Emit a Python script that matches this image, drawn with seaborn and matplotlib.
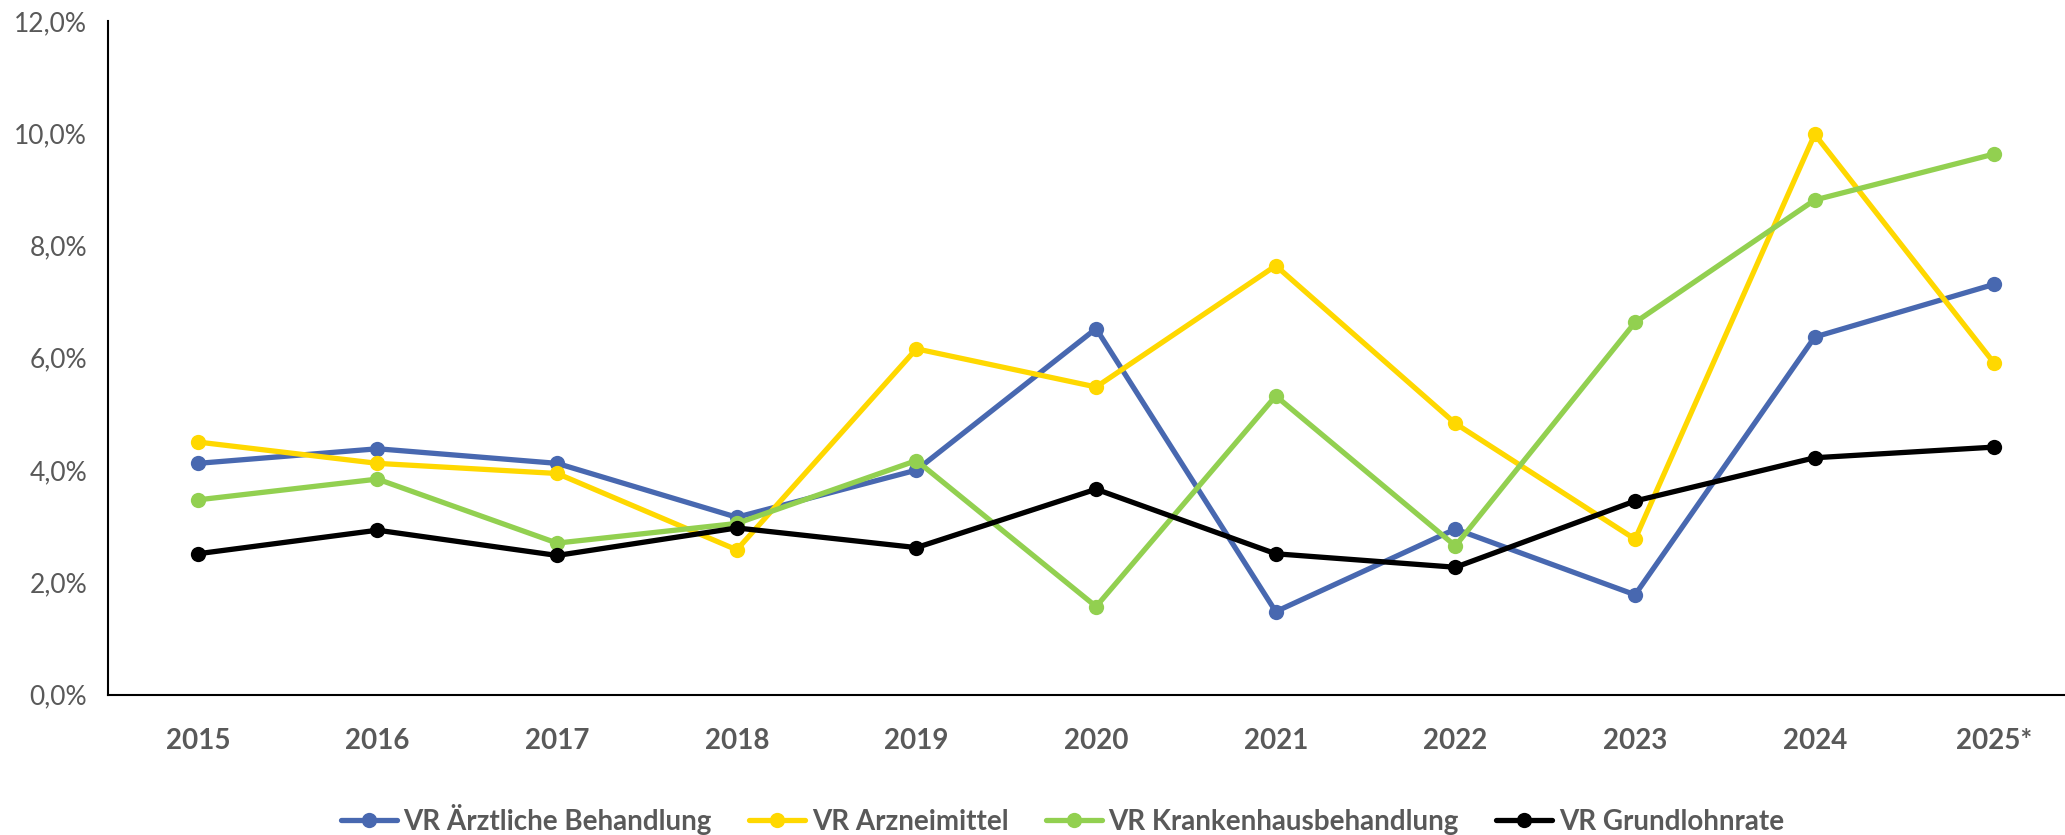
import pandas as pd
import numpy as np
import matplotlib
matplotlib.use("Agg")
import matplotlib.pyplot as plt
import seaborn as sns
from matplotlib.ticker import FuncFormatter

# data (in %)
years = ["2015", "2016", "2017", "2018", "2019", "2020", "2021", "2022", "2023", "2024", "2025*"]
aerztlich = [4.12, 4.38, 4.12, 3.16, 4.0, 6.52, 1.48, 2.95, 1.78, 6.37, 7.31]
arznei = [4.5, 4.12, 3.94, 2.58, 6.16, 5.48, 7.64, 4.83, 2.77, 9.98, 5.9]
krankenhaus = [3.47, 3.84, 2.70, 3.05, 4.17, 1.57, 5.32, 2.65, 6.63, 8.81, 9.63]
grundlohn = [2.51, 2.93, 2.48, 2.97, 2.62, 3.66, 2.51, 2.27, 3.45, 4.22, 4.41]

series = ["VR Ärztliche Behandlung", "VR Arzneimittel", "VR Krankenhausbehandlung", "VR Grundlohnrate"]
colors = ["#4868B0", "#FFD800", "#92D050", "#000000"]

df = pd.DataFrame({
    "Jahr": years * 4,
    "Wert": aerztlich + arznei + krankenhaus + grundlohn,
    "Reihe": [s for s in series for _ in years],
})

sns.set_style("white")
plt.rcParams['font.family'] = ['Lato', 'DejaVu Sans']

fig = plt.figure(figsize=(20.65, 8.35), dpi=100)
# plot area runs a little past the right edge of the image, as in the original
ax = fig.add_axes([0.0523, 0.168, 0.957, 0.807])

sns.lineplot(data=df, x="Jahr", y="Wert", hue="Reihe", palette=colors,
             hue_order=series, marker="o", markersize=11, markeredgewidth=0,
             linewidth=3.8, ax=ax, sort=False)

ax.set_xlim(-0.5, len(years) - 0.5)
ax.set_ylim(0, 12)
ax.set_yticks(np.arange(0, 12.1, 2))
ax.yaxis.set_major_formatter(FuncFormatter(lambda v, p: f"{v:.1f}%".replace(".", ",")))
ax.set_xlabel("")
ax.set_ylabel("")

for s in ["top", "right"]:
    ax.spines[s].set_visible(False)
for s in ["left", "bottom"]:
    ax.spines[s].set_color("black")
    ax.spines[s].set_linewidth(1.5)

ax.tick_params(axis="y", length=0, labelsize=19, labelcolor="#595959", pad=15)
ax.tick_params(axis="x", length=0, labelsize=20, labelcolor="#595959", pad=24)
for t in ax.get_xticklabels():
    t.set_fontweight("bold")

leg = ax.legend(loc="upper center", bbox_to_anchor=(0.483, -0.125), ncol=4, frameon=False,
                handlelength=2.0, columnspacing=1.35, handletextpad=0.25,
                prop={"weight": "bold", "size": 20})
for t in leg.get_texts():
    t.set_color("#595959")

fig.savefig("out.png", dpi=100)
